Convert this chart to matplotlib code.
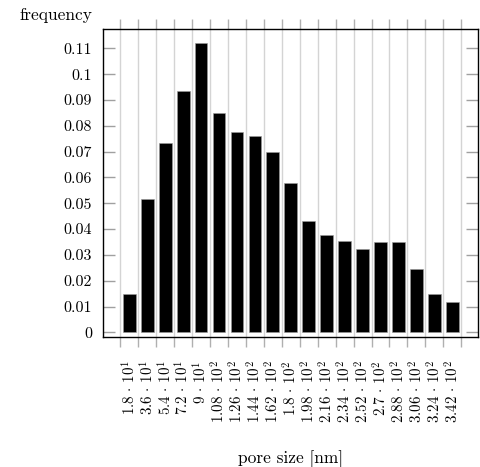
import matplotlib

matplotlib.use('Agg')
import matplotlib.pyplot as plt
import numpy as np

plt.rcParams['font.family'] = 'serif'
plt.rcParams['font.serif'] = ['cmr10']
plt.rcParams['mathtext.fontset'] = 'cm'
plt.rcParams['axes.unicode_minus'] = False

# pore size bin centres (mantissa, exponent) and their frequency
mantissa = ['1.8', '3.6', '5.4', '7.2', '9', '1.08', '1.26', '1.44', '1.62', '1.8',
            '1.98', '2.16', '2.34', '2.52', '2.7', '2.88', '3.06', '3.24', '3.42']
exponent = [1, 1, 1, 1, 1, 2, 2, 2, 2, 2, 2, 2, 2, 2, 2, 2, 2, 2, 2]
frequency = [0.015, 0.0517, 0.0735, 0.0935, 0.112, 0.085, 0.0778, 0.076, 0.0698, 0.058,
             0.0431, 0.0378, 0.0353, 0.0323, 0.0349, 0.035, 0.0244, 0.015, 0.0119]
yticks = [0, 0.01, 0.02, 0.03, 0.04, 0.05, 0.06, 0.07, 0.08, 0.09, 0.1, 0.11]
ytick_labels = ['0', '0.01', '0.02', '0.03', '0.04', '0.05', '0.06', '0.07', '0.08', '0.09', '0.1', '0.11']

fig = plt.figure(figsize=(4.8, 4.67), dpi=100)
ax = fig.add_axes([0.2152, 0.2794, 0.7813, 0.6579])

pos = np.arange(len(frequency))
edges = np.arange(len(frequency) + 1) - 0.5

ax.vlines(edges, 0, 1, transform=ax.get_xaxis_transform(), color='#d4d4d4', lw=1.0, zorder=0)
ax.bar(pos, frequency, width=0.71, color='black', edgecolor='#9a9a9a', linewidth=0.4, zorder=2)

ax.set_xlim(-1.45, 19.45)
ax.set_ylim(-0.0016, 0.1174)

# ticks sit on the bin edges, labels on the bar centres
ax.set_xticks(edges)
ax.set_xticklabels([])
ax.set_xticks(pos, minor=True)
ax.set_xticklabels([r'$%s\,\cdot\,10^{%d}$' % (m, e) for m, e in zip(mantissa, exponent)],
                   minor=True, rotation=90, fontsize=10.8)
ax.tick_params(axis='x', which='major', direction='out', length=7.5, width=1.0, color='#b0b0b0',
               top=True, bottom=True)
ax.tick_params(axis='x', which='minor', length=0, pad=17)

ax.set_yticks(yticks)
ax.set_yticklabels(ytick_labels, fontsize=11.5)
ax.tick_params(axis='y', direction='in', length=8.4, width=1.0, color='#a0a0a0',
               left=True, right=True, pad=8)

for s in ax.spines.values():
    s.set_linewidth(1.0)
    s.set_zorder(3)

fig.text(92 / 480, 1 - 15 / 467, 'frequency', ha='right', va='center', fontsize=12.5)
fig.text(290.5 / 480, 1 - 459 / 467, 'pore size [nm]', ha='center', va='center', fontsize=12.5)

fig.savefig('out.png', dpi=100)
